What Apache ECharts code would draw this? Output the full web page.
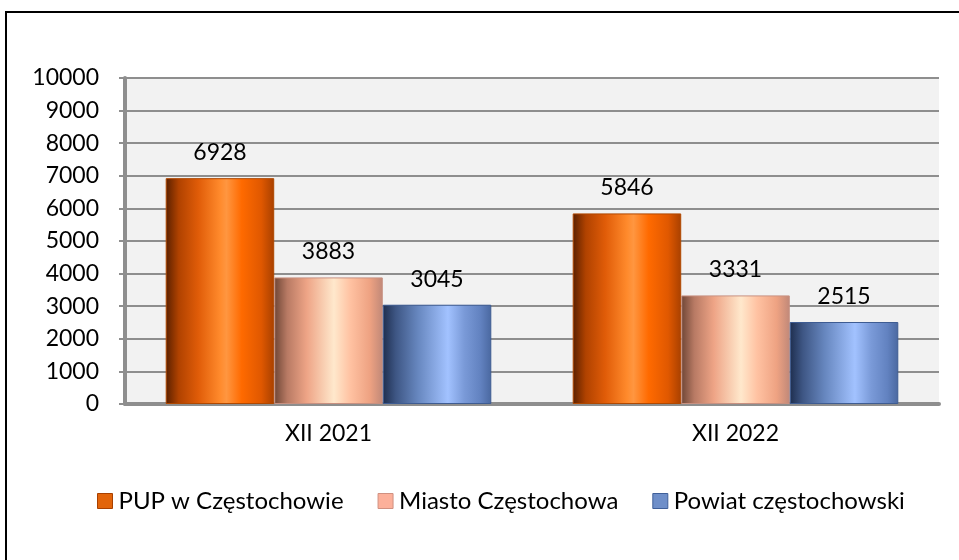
<!DOCTYPE html>
<html>
<head>
<meta charset="utf-8">
<script src="https://cdn.jsdelivr.net/npm/echarts@6/dist/echarts.min.js"></script>
<style>
html, body { margin: 0; padding: 0; background: #fff; }
#main { width: 959px; height: 560px; }
</style>
</head>
<body>
<div id="main"></div>
<script>
var categories = ['XII 2021', 'XII 2022'];
var seriesNames = ['PUP w Częstochowie', 'Miasto Częstochowa', 'Powiat częstochowski'];
var pupValues = [6928, 5846];
var miastoValues = [3883, 3331];
var powiatValues = [3045, 2515];
var yTicks = [0, 1000, 2000, 3000, 4000, 5000, 6000, 7000, 8000, 9000, 10000];

var FONT = 'Lato';

function grad(stops) {
	return new echarts.graphic.LinearGradient(0, 0, 1, 0, stops.map(function (s) {
		return { offset: s[0], color: s[1] };
	}));
}

var orangeFill = grad([[0, '#5a2000'], [0.12, '#b04200'], [0.3, '#e05c08'], [0.5, '#ff8a2c'], [0.56, '#ff9640'], [0.7, '#ff6a00'], [0.88, '#e05800'], [1, '#a84000']]);
var peachFill = grad([[0, '#6e4636'], [0.12, '#b87a64'], [0.3, '#eea486'], [0.55, '#ffe8cc'], [0.7, '#ffc2a2'], [0.88, '#eea282'], [1, '#c08878']]);
var blueFill = grad([[0, '#1e2e4e'], [0.12, '#3e5684'], [0.32, '#6686be'], [0.6, '#a2c2ff'], [0.75, '#7a9ad8'], [0.9, '#6282c0'], [1, '#4a68a0']]);

var myChart = echarts.init(document.getElementById('main'));

function makeSeries(name, data, fill, border) {
	return {
		name: name,
		type: 'bar',
		data: data,
		barGap: '0%',
		barCategoryGap: '20%',
		itemStyle: { color: fill, borderColor: border, borderWidth: 1 },
		label: {
			show: true,
			position: 'top',
			distance: 14,
			color: '#000',
			fontFamily: FONT,
			fontSize: 23
		}
	};
}

var option = {
	backgroundColor: '#fff',
	animation: false,
	graphic: [
		{
			type: 'rect',
			shape: { x: 6, y: 12, width: 980, height: 600 },
			style: { fill: 'none', stroke: '#000', lineWidth: 2 },
			silent: true
		}
	],
	legend: {
		bottom: 42,
		left: 92,
		itemWidth: 15,
		itemHeight: 15,
		itemGap: 34,
		icon: 'rect',
		textStyle: { fontFamily: FONT, fontSize: 24, color: '#000', padding: [0, 0, 0, 1] },
		data: [
			{ name: seriesNames[0], itemStyle: { color: '#e2640a', borderColor: '#a84000', borderWidth: 1 } },
			{ name: seriesNames[1], itemStyle: { color: '#fcb09a', borderColor: '#d09080', borderWidth: 1 } },
			{ name: seriesNames[2], itemStyle: { color: '#6f8fc9', borderColor: '#3f5f99', borderWidth: 1 } }
		]
	},
	grid: {
		left: 125,
		right: 20,
		top: 78,
		bottom: 156,
		show: true,
		backgroundColor: '#f2f2f2',
		borderWidth: 0
	},
	xAxis: {
		type: 'category',
		data: categories,
		axisLine: { show: true, lineStyle: { color: '#8e8e8e', width: 4 } },
		axisTick: { show: false },
		axisLabel: { color: '#000', fontFamily: FONT, fontSize: 23, margin: 18 }
	},
	yAxis: {
		type: 'value',
		min: yTicks[0],
		max: yTicks[yTicks.length - 1],
		interval: 1000,
		axisLine: { show: true, lineStyle: { color: '#8e8e8e', width: 4 } },
		axisTick: { show: true, length: 6, lineStyle: { color: '#8e8e8e', width: 2 } },
		splitLine: { show: true, lineStyle: { color: '#8e8e8e', width: 2 } },
		axisLabel: {
			color: '#000',
			fontFamily: FONT,
			fontSize: 23,
			margin: 26,
			formatter: function (v) { return String(v); }
		}
	},
	series: [
		makeSeries(seriesNames[0], pupValues, orangeFill, '#b04800'),
		makeSeries(seriesNames[1], miastoValues, peachFill, '#c89080'),
		makeSeries(seriesNames[2], powiatValues, blueFill, '#3e5c92')
	]
};

myChart.setOption(option);
</script>
</body>
</html>
